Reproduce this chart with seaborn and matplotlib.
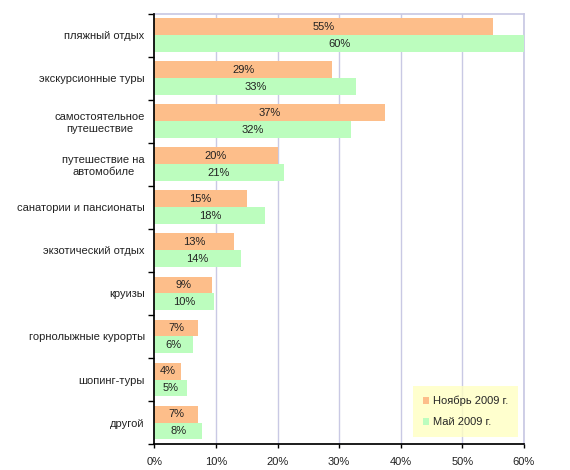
import pandas as pd
import matplotlib
matplotlib.use("Agg")
import matplotlib.pyplot as plt
import seaborn as sns
from matplotlib.patches import Patch

categories = [
    "пляжный отдых",
    "экскурсионные туры",
    "самостоятельное\nпутешествие",
    "путешествие на\nавтомобиле",
    "санатории и пансионаты",
    "экзотический отдых",
    "круизы",
    "горнолыжные курорты",
    "шопинг-туры",
    "другой",
]
series_names = ["Ноябрь 2009 г.", "Май 2009 г."]
nov_values = [55.0, 28.8, 37.4, 20.0, 15.0, 13.0, 9.3, 7.0, 4.3, 7.0]
may_values = [60.0, 32.8, 32.0, 21.0, 18.0, 14.0, 9.7, 6.2, 5.3, 7.7]
x_ticks = [0, 10, 20, 30, 40, 50, 60]

colors = ["#FDBE8A", "#BCFDBE"]
grid_color = "#C9C9E4"

df = pd.DataFrame({
    "category": categories * 2,
    "period": [series_names[0]] * len(categories) + [series_names[1]] * len(categories),
    "value": nov_values + may_values,
})

sns.set_theme(style="white")
plt.rcParams["font.family"] = ["Liberation Sans", "DejaVu Sans"]

fig = plt.figure(figsize=(5.7, 4.7), dpi=100)
ax = fig.add_axes([0.271, 0.0553, 0.648, 0.915])

sns.barplot(data=df, y="category", x="value", hue="period", orient="h",
            palette=colors, saturation=1, width=0.79, ax=ax, legend=False,
            order=categories, hue_order=series_names, linewidth=0, zorder=3)

# percent labels centred in each bar
for container in ax.containers:
    labels = [f"{w:.0f}%" for w in container.datavalues]
    ax.bar_label(container, labels=labels, label_type="center",
                 fontsize=8, color="#222222")

ax.set_xlim(0, 60)
ax.set_ylim(len(categories) - 0.5, -0.5)
ax.set_xticks(x_ticks)
ax.set_xticklabels([f"{t}%" for t in x_ticks], fontsize=8, color="#222222")
ax.set_xlabel("")
ax.set_ylabel("")

for t in x_ticks[1:]:
    ax.axvline(t, color=grid_color, lw=1, zorder=1)

ax.tick_params(axis="y", which="major", length=0, pad=7, labelsize=8, labelcolor="#222222")
for lbl in ax.get_yticklabels():
    lbl.set_multialignment("center")
ax.set_yticks([i - 0.5 for i in range(len(categories) + 1)], minor=True)
ax.tick_params(axis="y", which="minor", left=True, length=4, width=1, color="black", direction="out")
ax.tick_params(axis="x", which="major", bottom=True, length=3, width=1, color="black", direction="out", pad=6)

ax.spines["left"].set_color("black")
ax.spines["bottom"].set_color("black")
ax.spines["left"].set_zorder(4)
ax.spines["bottom"].set_zorder(4)
ax.spines["top"].set_color(grid_color)
ax.spines["right"].set_color(grid_color)

handles = [Patch(facecolor=c, edgecolor="none", label=n) for c, n in zip(colors, series_names)]
leg = ax.legend(handles=handles, loc="lower right", bbox_to_anchor=(0.984, 0.016),
                borderaxespad=0, frameon=True, fancybox=False, fontsize=8,
                handlelength=0.6, handleheight=0.6, handletextpad=0.3,
                labelspacing=1.0, borderpad=0.9)
leg.get_frame().set_facecolor("#FFFFC2")
leg.get_frame().set_edgecolor("none")
leg.set_zorder(5)

fig.savefig("out.png", dpi=100)
